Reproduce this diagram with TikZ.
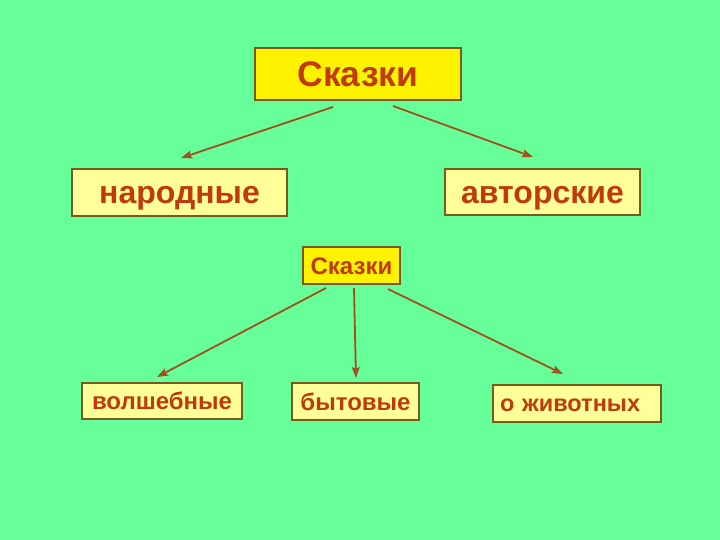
\documentclass[tikz,border=0pt]{standalone}
\usepackage{fontspec}
\setmainfont{Liberation Sans}
\usetikzlibrary{arrows.meta}
\definecolor{bg}{RGB}{102,255,153}
\definecolor{txt}{RGB}{192,58,12}
\definecolor{brd}{RGB}{120,90,30}
\definecolor{lin}{RGB}{160,80,30}
\definecolor{tip}{RGB}{230,90,20}
\definecolor{pale}{RGB}{255,255,153}
\tikzset{
  box/.style={draw=brd, line width=1.4pt, inner sep=0pt, text=txt, text height=#1, text depth=0pt},
  conn/.style={draw=lin, line width=1.8pt, -{Stealth[length=11pt,width=8pt,fill=tip,inset=2pt]}},
}
\begin{document}
\begin{tikzpicture}[x=1pt,y=-1pt]
\fill[bg] (0,0) rectangle (720,540);
\useasboundingbox (0,0) rectangle (720,540);
\node[box=25.4pt, fill=yellow, minimum width=206pt, minimum height=52pt, font=\bfseries\fontsize{35.5}{40}\selectfont] (top) at (358,74) {Сказки};
\node[box=22.9pt, fill=pale, minimum width=215pt, minimum height=47pt, font=\bfseries\fontsize{32}{36}\selectfont] (nar) at (179.5,192.5) {народные};
\node[box=22.9pt, fill=pale, minimum width=195pt, minimum height=46pt, font=\bfseries\fontsize{32}{36}\selectfont] (avt) at (542.5,192) {авторские};
\node[box=17.2pt, fill=yellow, minimum width=97pt, minimum height=37pt, font=\bfseries\fontsize{24}{28}\selectfont] (sk) at (351.5,265.5) {Сказки};
\node[box=17.2pt, fill=pale, minimum width=160pt, minimum height=36pt, font=\bfseries\fontsize{24}{28}\selectfont] (vol) at (162,401) {волшебные};
\node[box=17.2pt, fill=pale, minimum width=127pt, minimum height=37pt, font=\bfseries\fontsize{24}{28}\selectfont] (byt) at (355.5,401.5) {бытовые};
\node[box=16.8pt, fill=pale, minimum width=168pt, minimum height=37pt, text width=154pt, align=left, font=\bfseries\fontsize{23.5}{28}\selectfont] (zhv) at (577,403.5) {о животных};
\coordinate (a1) at (333,107); \coordinate (b1) at (181,158);
\coordinate (a2) at (393,106); \coordinate (b2) at (533,157);
\coordinate (a3) at (326,288); \coordinate (b3) at (157,377);
\coordinate (a4) at (354,288); \coordinate (b4) at (356,378);
\coordinate (a5) at (388,289); \coordinate (b5) at (563,374);
\draw[conn] (a1) -- (b1);
\draw[conn] (a2) -- (b2);
\draw[conn] (a3) -- (b3);
\draw[conn] (a4) -- (b4);
\draw[conn] (a5) -- (b5);
\end{tikzpicture}
\end{document}
